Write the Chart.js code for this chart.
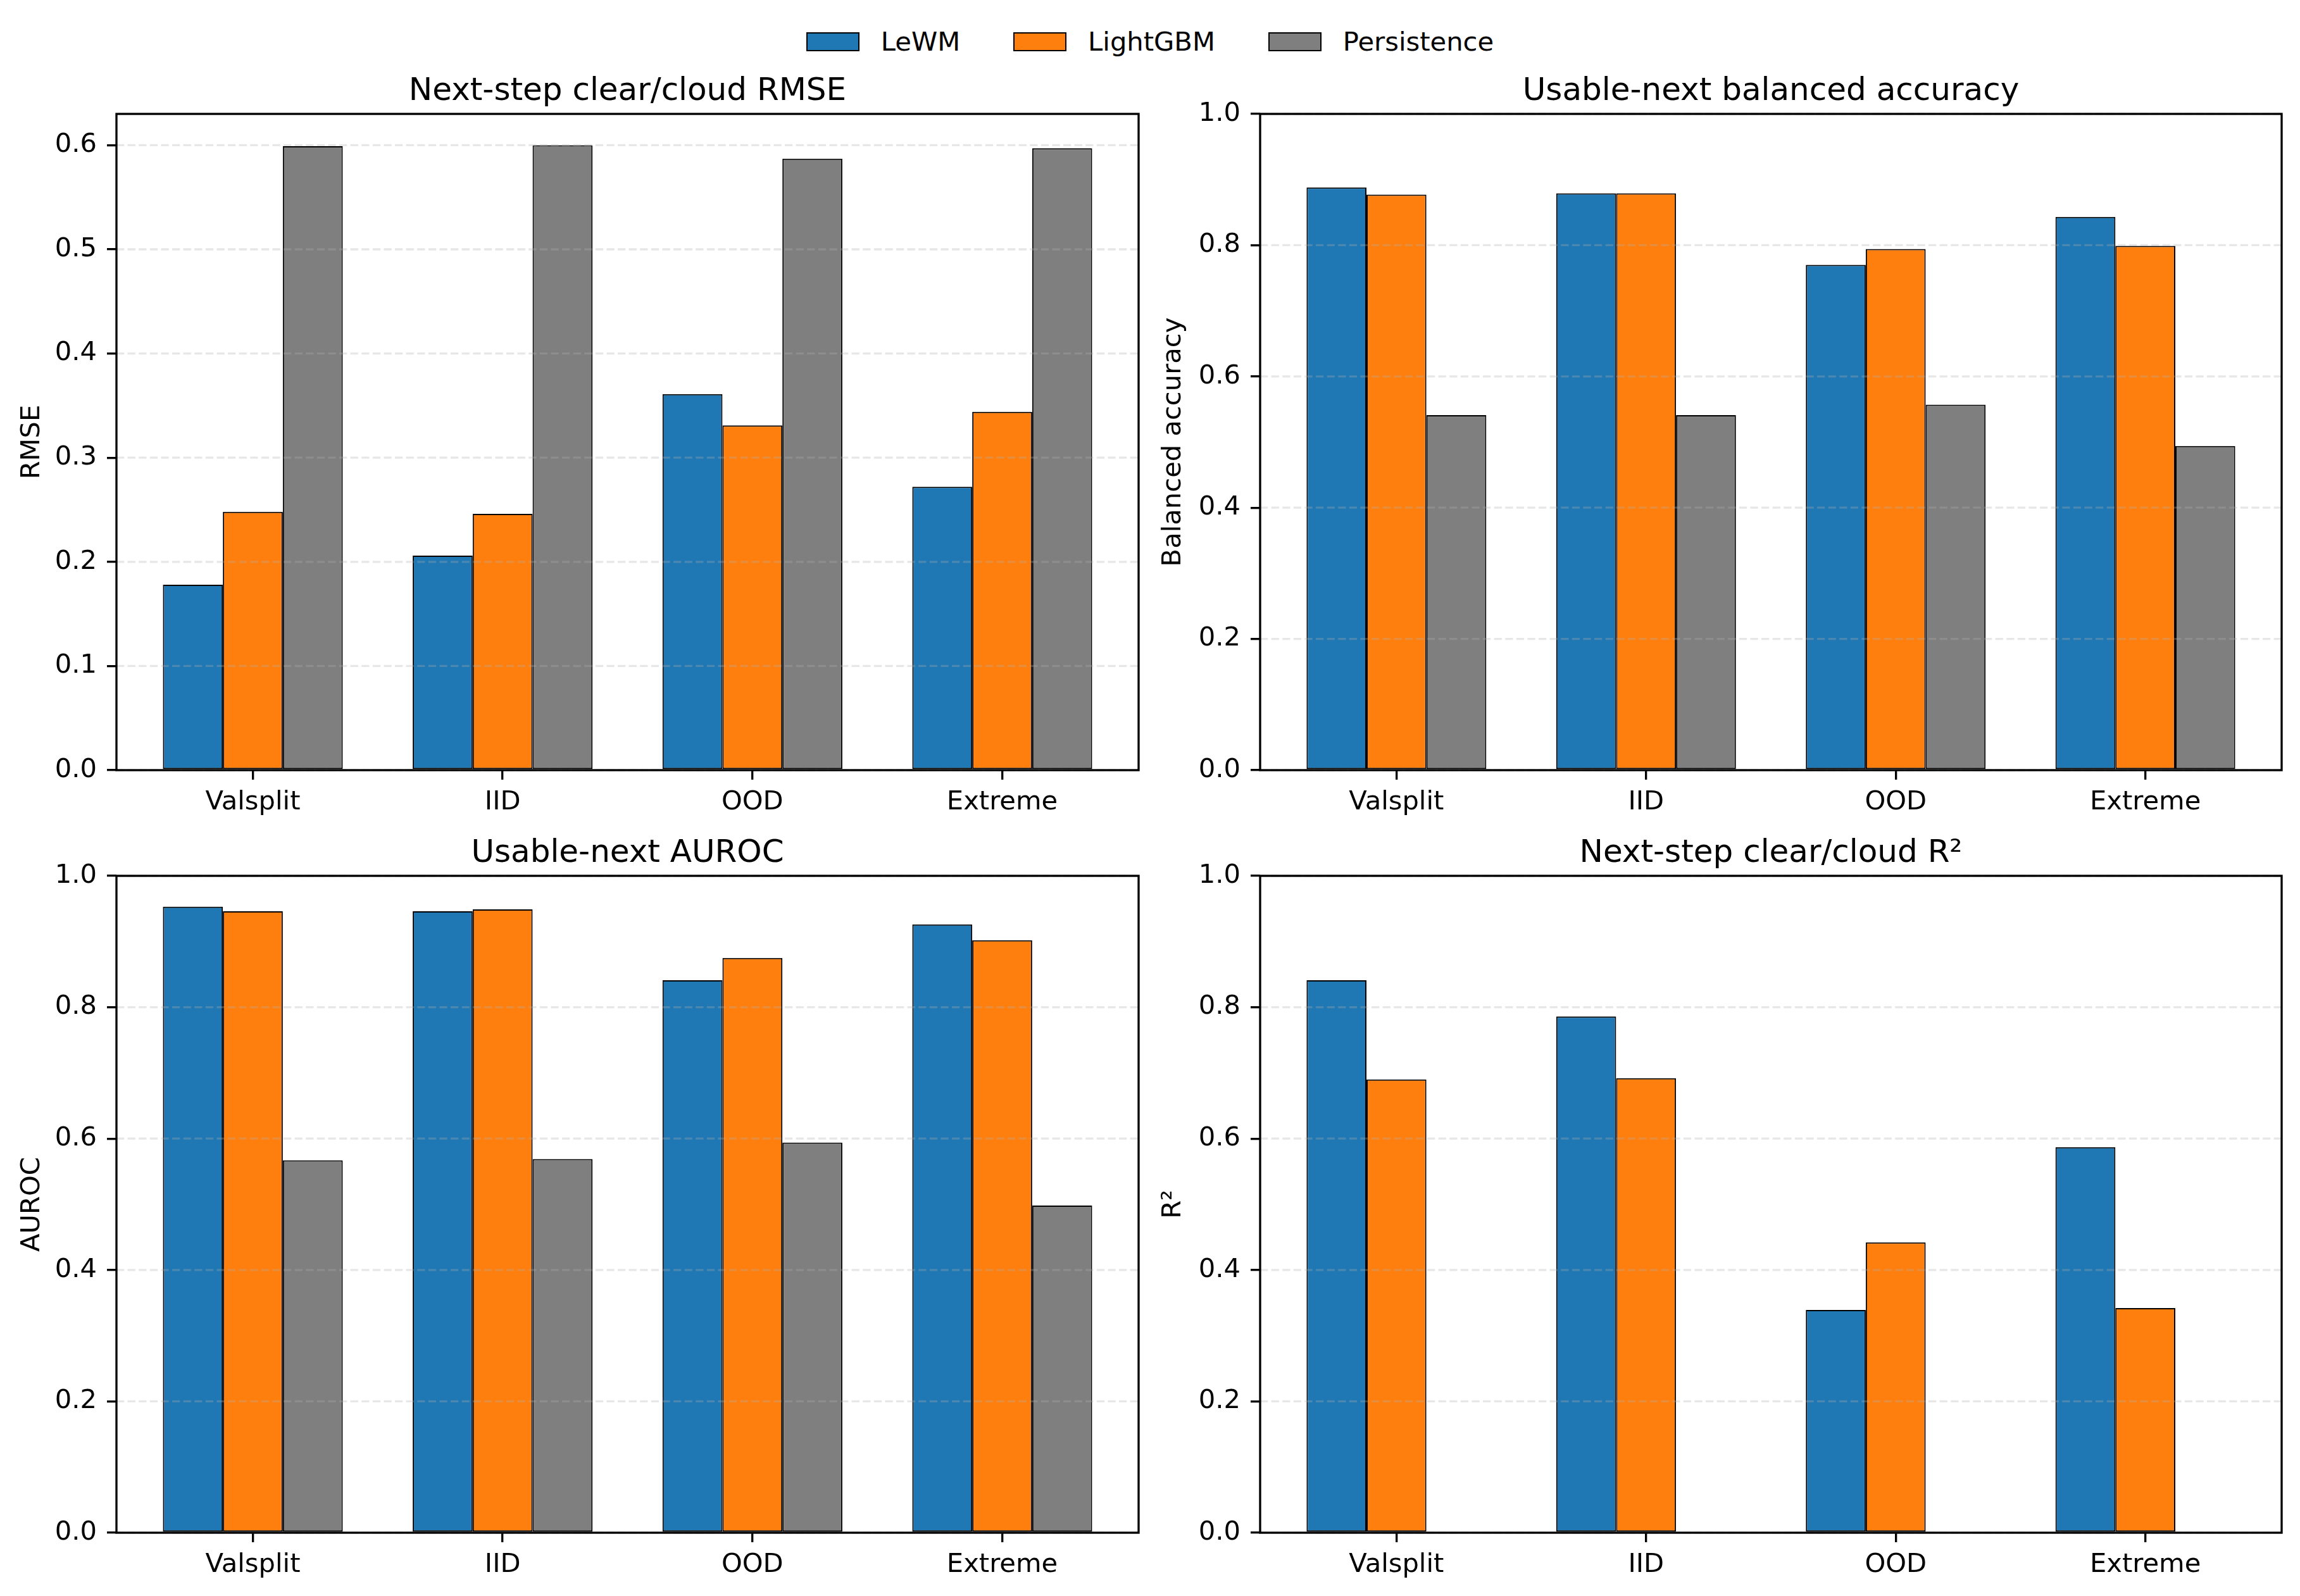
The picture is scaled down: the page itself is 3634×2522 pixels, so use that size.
<!DOCTYPE html>
<html>
<head>
<meta charset="utf-8">
<script src="https://cdn.jsdelivr.net/npm/chart.js@4.4.1/dist/chart.umd.min.js"></script>
<style>
    body { margin: 0; background: #fff; width: 3634px; height: 2522px; overflow: hidden; position: relative; font-family: "DejaVu Sans"; }
    canvas { position: absolute; }
    #legend { position: absolute; top: 41px; left: 0; width: 3634px; display: flex; justify-content: center; align-items: center; font-size: 41.67px; color: #000; }
    .item { display: flex; align-items: center; margin: 0 42px; }
    .swatch { width: 84px; height: 30px; box-sizing: border-box; border: 2px solid #000; margin-right: 34px; }
</style>
</head>
<body>
<div id="legend"></div>
<canvas id="rmse"></canvas>
<canvas id="bacc"></canvas>
<canvas id="auroc"></canvas>
<canvas id="r2"></canvas>
<script>
const categories = ["Valsplit", "IID", "OOD", "Extreme"];
const seriesNames = ["LeWM", "LightGBM", "Persistence"];

const rmseLewm = [0.178, 0.206, 0.361, 0.272];
const rmseLgbm = [0.248, 0.246, 0.331, 0.344];
const rmsePers = [0.599, 0.600, 0.587, 0.597];

const baccLewm = [0.888, 0.879, 0.770, 0.843];
const baccLgbm = [0.877, 0.879, 0.794, 0.799];
const baccPers = [0.541, 0.541, 0.557, 0.494];

const aurocLewm = [0.953, 0.946, 0.841, 0.926];
const aurocLgbm = [0.946, 0.949, 0.875, 0.902];
const aurocPers = [0.567, 0.569, 0.594, 0.498];

const r2Lewm = [0.841, 0.786, 0.339, 0.587];
const r2Lgbm = [0.690, 0.692, 0.442, 0.342];
const r2Pers = [null, null, null, null];

const rmseTicks = { max: 0.63, step: 0.1 };
const unitTicks = { max: 1.0, step: 0.2 };

const colors = ["#1f77b4", "#ff7f0e", "#7f7f7f"];

const TICK_FONT = 41.67;
const TITLE_FONT = 50;
const LW = 3.33;
const YW = 184;   // room left of each plot for ticks and label (mirrored on the right)
const TH = 65;    // title block
const XH = 110;   // x tick block

Chart.defaults.font.family = "DejaVu Sans";
Chart.defaults.color = "#000";

// legend
const legend = document.getElementById("legend");
seriesNames.forEach((name, i) => {
    const item = document.createElement("div");
    item.className = "item";
    item.innerHTML = `<span class="swatch" style="background:${colors[i]}"></span><span>${name}</span>`;
    legend.appendChild(item);
});

// dashed y grid over bars + full box, like matplotlib
const framePlugin = {
    id: "frame",
    afterDatasetsDraw(chart) {
        const { ctx, chartArea: a } = chart;
        const y = chart.scales.y;
        ctx.save();
        ctx.strokeStyle = "rgba(176,176,176,0.3)";
        ctx.lineWidth = LW;
        ctx.setLineDash([12.3, 5.3]);
        y.ticks.forEach((t) => {
            const py = y.getPixelForValue(t.value);
            ctx.beginPath();
            ctx.moveTo(a.left, py);
            ctx.lineTo(a.right, py);
            ctx.stroke();
        });
        ctx.setLineDash([]);
        ctx.strokeStyle = "#000";
        ctx.strokeRect(a.left, a.top, a.right - a.left, a.bottom - a.top);
        ctx.restore();
    },
};

function panel(id, box, series, title, ylabel, yt, labelPad) {
    const canvas = document.getElementById(id);
    canvas.width = YW + box.w + YW;
    canvas.height = TH + box.h + XH;
    canvas.style.left = box.l - YW + "px";
    canvas.style.top = box.t - TH + "px";

    new Chart(canvas, {
        type: "bar",
        data: {
            datasets: series.map((vals, i) => ({
                label: seriesNames[i],
                data: vals.map((v, j) => ({ x: j, y: v })),
                backgroundColor: colors[i],
                borderColor: "#000",
                borderWidth: 2,
                borderSkipped: false,
                categoryPercentage: 0.72,
                barPercentage: 1.0,
            })),
        },
        options: {
            responsive: false,
            animation: false,
            devicePixelRatio: 1,
            layout: { padding: 0 },
            scales: {
                x: {
                    type: "linear",
                    offset: false,
                    min: -0.546,
                    max: 3.546,
                    afterFit: (s) => { s.height = XH; },
                    border: { display: false },
                    grid: { offset: false, drawOnChartArea: false, drawTicks: true, tickLength: 15, tickWidth: LW, lineWidth: LW, tickColor: "#000" },
                    ticks: {
                        stepSize: 1,
                        includeBounds: false,
                        autoSkip: false,
                        maxRotation: 0,
                        padding: 11,
                        font: { size: TICK_FONT },
                        callback: (v) => (Number.isInteger(v) ? categories[v] : ""),
                    },
                },
                y: {
                    min: 0,
                    max: yt.max,
                    afterFit: (s) => { s.width = YW; },
                    border: { display: false },
                    grid: { drawOnChartArea: false, drawTicks: true, tickLength: 15, tickWidth: LW, lineWidth: LW, tickColor: "#000" },
                    ticks: {
                        stepSize: yt.step,
                        includeBounds: false,
                        padding: 16,
                        font: { size: TICK_FONT },
                        callback: (v) => v.toFixed(1),
                    },
                    title: {
                        display: true,
                        text: ylabel,
                        font: { size: TICK_FONT },
                        padding: { top: labelPad, bottom: 0 },
                    },
                },
                // empty right axis, only keeps the plot centred under its title
                yRight: {
                    position: "right",
                    afterFit: (s) => { s.width = YW; },
                    border: { display: false },
                    grid: { display: false },
                    ticks: { display: false },
                },
            },
            plugins: {
                legend: { display: false },
                tooltip: { enabled: false },
                title: {
                    display: true,
                    text: title,
                    font: { size: TITLE_FONT, weight: "normal" },
                    padding: { top: 0, bottom: 5 },
                },
            },
        },
        plugins: [framePlugin],
    });
}

panel("rmse", { l: 184, t: 180, w: 1615, h: 1037 }, [rmseLewm, rmseLgbm, rmsePers],
    "Next-step clear/cloud RMSE", "RMSE", rmseTicks, 26);
panel("bacc", { l: 1991, t: 180, w: 1614, h: 1037 }, [baccLewm, baccLgbm, baccPers],
    "Usable-next balanced accuracy", "Balanced accuracy", unitTicks, 22);
panel("auroc", { l: 184, t: 1384, w: 1615, h: 1038 }, [aurocLewm, aurocLgbm, aurocPers],
    "Usable-next AUROC", "AUROC", unitTicks, 26);
panel("r2", { l: 1991, t: 1384, w: 1614, h: 1038 }, [r2Lewm, r2Lgbm, r2Pers],
    "Next-step clear/cloud R²", "R²", unitTicks, 22);
</script>
</body>
</html>
